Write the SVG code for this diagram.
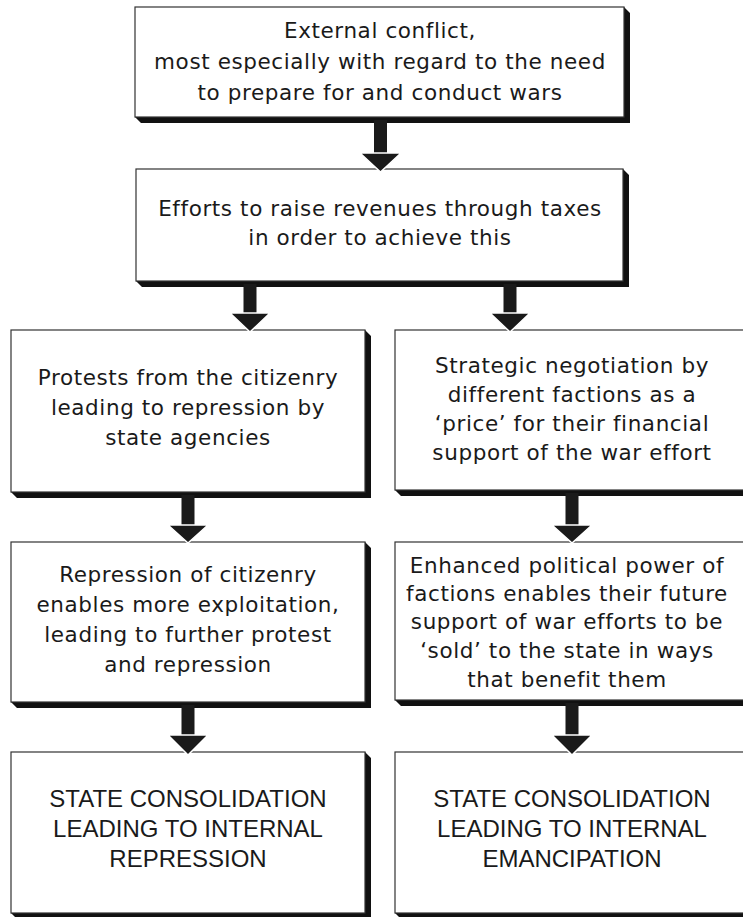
<svg xmlns="http://www.w3.org/2000/svg" width="743" height="917" viewBox="0 0 743 917">
<style>
.box{fill:#fff;stroke:#333;stroke-width:1.2}
.sh{fill:#111}
.t{font-family:"DejaVu Sans","Liberation Sans",Arial,sans-serif;font-size:21.5px;letter-spacing:0.6px;fill:#1a1a1a;text-anchor:middle}
.c{font-family:"Liberation Sans",Arial,sans-serif;font-size:24px;fill:#1a1a1a;text-anchor:middle}
.ar{fill:#1a1a1a}
.hd{fill:#1a1a1a;stroke:#fff;stroke-width:1.5;stroke-linejoin:miter}
</style>
<rect width="743" height="917" fill="#fff"/>
<g id="n1">
<polygon class="sh" points="624,7 630,13 630,123 141,123 135,117 624,117"/>
<rect class="box" x="135" y="7" width="489" height="110"/>
<text class="t" x="380" y="38">External conflict,</text>
<text class="t" x="380" y="69">most especially with regard to the need</text>
<text class="t" x="380" y="100">to prepare for and conduct wars</text>
</g>
<g id="n2">
<polygon class="sh" points="623,169 629,175 629,287 142,287 136,281 623,281"/>
<rect class="box" x="136" y="169" width="487" height="112"/>
<text class="t" x="380" y="216">Efforts to raise revenues through taxes</text>
<text class="t" x="380" y="245">in order to achieve this</text>
</g>
<g id="n3">
<polygon class="sh" points="365,330 371,336 371,498 17,498 11,492 365,492"/>
<rect class="box" x="11" y="330" width="354" height="162"/>
<text class="t" x="188" y="385">Protests from the citizenry</text>
<text class="t" x="188" y="415">leading to repression by</text>
<text class="t" x="188" y="445">state agencies</text>
</g>
<g id="n4">
<polygon class="sh" points="743,330 749,336 749,496 401,496 395,490 743,490"/>
<rect class="box" x="395" y="330" width="349" height="160"/>
<text class="t" x="572" y="373">Strategic negotiation by</text>
<text class="t" x="572" y="402">different factions as a</text>
<text class="t" x="572" y="431">‘price’  for their financial</text>
<text class="t" x="572" y="460">support of the war effort</text>
</g>
<g id="n5">
<polygon class="sh" points="365,542 371,548 371,708 17,708 11,702 365,702"/>
<rect class="box" x="11" y="542" width="354" height="160"/>
<text class="t" x="188" y="582">Repression of citizenry</text>
<text class="t" x="188" y="612">enables more exploitation,</text>
<text class="t" x="188" y="642">leading to further protest</text>
<text class="t" x="188" y="672">and repression</text>
</g>
<g id="n6">
<polygon class="sh" points="743,542 749,548 749,706 401,706 395,700 743,700"/>
<rect class="box" x="395" y="542" width="349" height="158"/>
<text class="t" x="567" y="573">Enhanced political power of</text>
<text class="t" x="567" y="601">factions enables their future</text>
<text class="t" x="567" y="629">support of war efforts to be</text>
<text class="t" x="567" y="658">‘sold’ to the state in ways</text>
<text class="t" x="567" y="687">that benefit them</text>
</g>
<g id="n7">
<polygon class="sh" points="365,752 371,758 371,919 17,919 11,913 365,913"/>
<rect class="box" x="11" y="752" width="354" height="161"/>
<text class="c" x="188" y="807">STATE CONSOLIDATION</text>
<text class="c" x="188" y="837">LEADING TO INTERNAL</text>
<text class="c" x="188" y="867">REPRESSION</text>
</g>
<g id="n8">
<polygon class="sh" points="743,752 749,758 749,919 401,919 395,913 743,913"/>
<rect class="box" x="395" y="752" width="349" height="161"/>
<text class="c" x="572" y="807">STATE CONSOLIDATION</text>
<text class="c" x="572" y="837">LEADING TO INTERNAL</text>
<text class="c" x="572" y="867">EMANCIPATION</text>
</g>
<g id="connectors">
<rect class="ar" x="374" y="120" width="13" height="34"/>
<polygon class="hd" points="360,153 401,153 380.5,172"/>
<rect class="ar" x="243.5" y="284" width="13" height="30"/>
<polygon class="hd" points="230,313 270,313 250,332"/>
<rect class="ar" x="503.5" y="284" width="13" height="30"/>
<polygon class="hd" points="490,313 530,313 510,332"/>
<rect class="ar" x="181.5" y="495" width="13" height="31"/>
<polygon class="hd" points="168,525 208,525 188,543"/>
<rect class="ar" x="565.5" y="493" width="13" height="33"/>
<polygon class="hd" points="552,525 592,525 572,543"/>
<rect class="ar" x="181.5" y="705" width="13" height="31"/>
<polygon class="hd" points="168,735 208,735 188,755"/>
<rect class="ar" x="565.5" y="703" width="13" height="33"/>
<polygon class="hd" points="552,735 592,735 572,755"/>
</g>
</svg>
